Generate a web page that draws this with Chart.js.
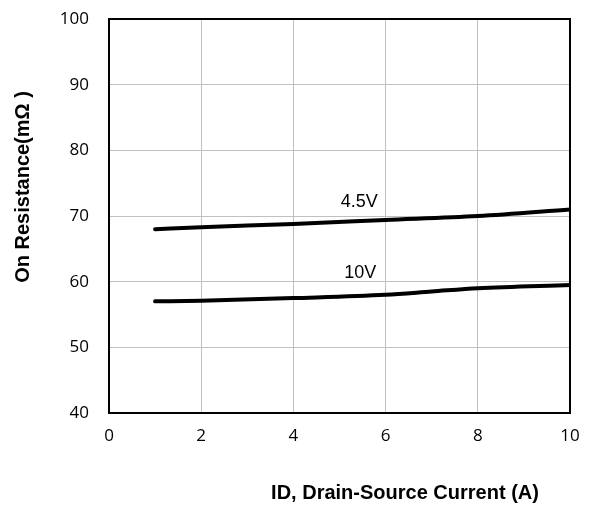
<!DOCTYPE html>
<html>
<head>
<meta charset="utf-8">
<script src="https://cdn.jsdelivr.net/npm/chart.js@4"></script>
<style>
  html, body { margin: 0; padding: 0; background: #fff; }
  #wrap { width: 590px; height: 506px; }
</style>
</head>
<body>
<div id="wrap"><canvas id="rdsChart" width="590" height="506"></canvas></div>
<script>
const xTicks = [0, 2, 4, 6, 8, 10];
const yTicks = [40, 50, 60, 70, 80, 90, 100];

const id45 = [1, 2, 4, 6, 8, 10];
const rds45 = [68, 68.3, 68.8, 69.4, 70, 71];

const id10 = [1, 2, 4, 6, 7, 8, 10];
const rds10 = [57, 57.1, 57.5, 58, 58.5, 59, 59.5];

const curveLabels = [
  { text: "4.5V", x: 5.43, y: 72.1 },
  { text: "10V", x: 5.45, y: 61.3 }
];

const xTitle = "ID, Drain-Source Current (A)";
const yTitle = "On Resistance(mΩ )";

const toPoints = (xs, ys) => xs.map((x, i) => ({ x, y: ys[i] }));

// frame, curve labels and axis titles
const decorPlugin = {
  id: "decor",
  afterDraw(chart) {
    const { ctx, chartArea: a, scales } = chart;
    ctx.save();
    ctx.strokeStyle = "#000";
    ctx.lineWidth = 2;
    ctx.strokeRect(a.left, a.top, a.right - a.left, a.bottom - a.top);

    ctx.fillStyle = "#000";
    ctx.font = "18px 'Liberation Sans', Arial, sans-serif";
    ctx.textAlign = "center";
    ctx.textBaseline = "middle";
    curveLabels.forEach(l => {
      ctx.fillText(l.text, scales.x.getPixelForValue(l.x), scales.y.getPixelForValue(l.y));
    });

    ctx.font = "bold 20px 'Liberation Sans', Arial, sans-serif";
    ctx.fillText(xTitle, 405, 493);

    ctx.translate(23, 187);
    ctx.rotate(-Math.PI / 2);
    ctx.fillText(yTitle, 0, 0);
    ctx.restore();
  }
};

const lineStyle = {
  borderColor: "#000",
  borderWidth: 4,
  borderCapStyle: "round",
  pointRadius: 0,
  tension: 0.4,
  cubicInterpolationMode: "monotone",
  fill: false
};

new Chart(document.getElementById("rdsChart").getContext("2d"), {
  type: "scatter",
  data: {
    datasets: [
      { label: "4.5V", data: toPoints(id45, rds45), showLine: true, ...lineStyle },
      { label: "10V", data: toPoints(id10, rds10), showLine: true, ...lineStyle }
    ]
  },
  options: {
    responsive: false,
    animation: false,
    layout: { padding: { top: 19, right: 20, left: 0, bottom: 0 } },
    plugins: {
      legend: { display: false },
      tooltip: { enabled: false }
    },
    scales: {
      x: {
        type: "linear",
        min: xTicks[0],
        max: xTicks[xTicks.length - 1],
        afterBuildTicks: s => { s.ticks = xTicks.map(v => ({ value: v })); },
        afterFit: s => { s.height = 93; s.paddingLeft = 0; s.paddingRight = 0; },
        grid: { color: "#c0c0c0", lineWidth: 1, drawTicks: false },
        border: { color: "#000", width: 2 },
        ticks: {
          padding: 13,
          color: "#000",
          font: { family: "'Open Sans', sans-serif", size: 17 }
        }
      },
      y: {
        type: "linear",
        min: yTicks[0],
        max: yTicks[yTicks.length - 1],
        afterBuildTicks: s => { s.ticks = yTicks.map(v => ({ value: v })); },
        afterFit: s => { s.width = 109; s.paddingTop = 0; s.paddingBottom = 0; },
        grid: { color: "#c0c0c0", lineWidth: 1, drawTicks: false },
        border: { color: "#000", width: 2 },
        ticks: {
          padding: 20,
          color: "#000",
          font: { family: "'Open Sans', sans-serif", size: 17 }
        }
      }
    }
  },
  plugins: [decorPlugin]
});
</script>
</body>
</html>
